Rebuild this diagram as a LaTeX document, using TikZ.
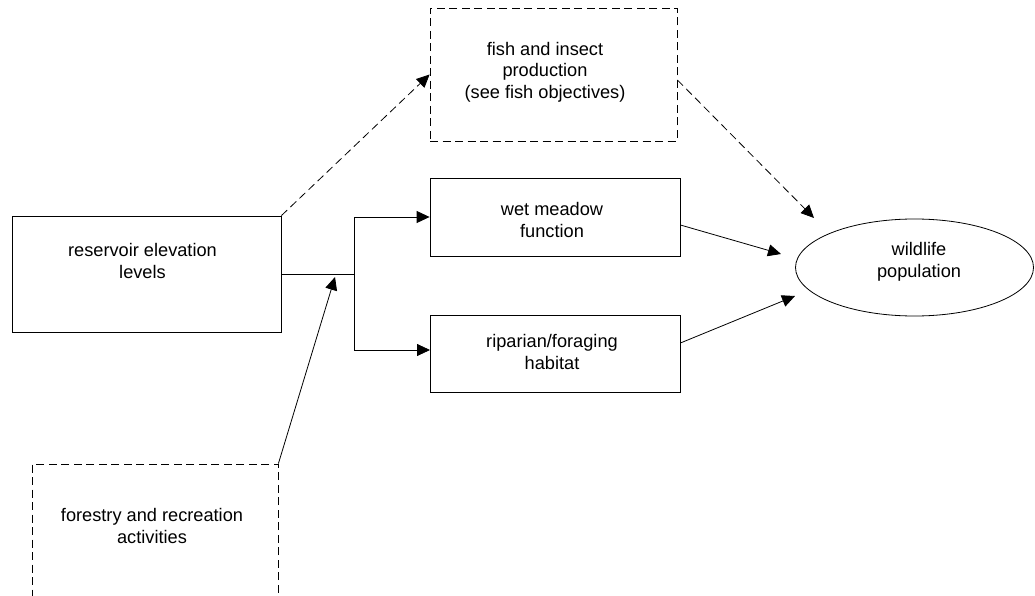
\documentclass[tikz,border=0pt]{standalone}
\usepackage{fontspec}
\setmainfont{Liberation Sans}
\usetikzlibrary{arrows.meta,shapes.geometric}
\begin{document}
\begin{tikzpicture}[x=1pt,y=-1pt,
  box/.style={draw=black, line width=0.8pt, rectangle, inner sep=0pt},
  dbox/.style={box, dash pattern=on 8pt off 4.5pt},
  txt/.style={align=center, font=\fontsize{18.2}{21.5}\selectfont, inner sep=0pt},
  arr/.style={line width=0.8pt, -{Triangle[length=13pt,width=12pt]}},
  darr/.style={arr, dash pattern=on 8pt off 4.5pt},
  conn/.style={line width=0.8pt}]
\useasboundingbox (0,0) rectangle (1035,596);
\clip (0,0) rectangle (1035,596);
% boxes
\node[box, minimum width=269pt, minimum height=116pt] (res) at (146.5,274) {};
\node[txt] (tres) at (142.5,261) {reservoir elevation\\levels};
\node[dbox, minimum width=247pt, minimum height=133pt] (fish) at (553.5,74.5) {};
\node[txt] (tfish) at (545,72) {fish and insect\\production\\(see fish objectives)};
\node[box, minimum width=250pt, minimum height=78pt] (wet) at (555,217) {};
\node[txt] (twet) at (552,220) {wet meadow\\function};
\node[box, minimum width=250pt, minimum height=77pt] (rip) at (555,353.5) {};
\node[txt] (trip) at (552,352) {riparian/foraging\\habitat};
\node[dbox, minimum width=246pt, minimum height=170pt] (for) at (155,549) {};
\node[txt] (tfor) at (152,526) {forestry and recreation\\activities};
\node[draw=black, line width=0.8pt, ellipse, inner sep=0pt, minimum width=238pt, minimum height=97pt] (wild) at (914.5,267.5) {};
\node[txt] (twild) at (919,262) {wildlife\\population};
% coordinates
\coordinate (j) at (354,274);
\coordinate (jt) at (430,350);
\coordinate (w1) at (814,218);
\coordinate (w2) at (781,254);
\coordinate (w3) at (795,296);
\coordinate (f1) at (335,277);
% connectors
\draw[conn] (res.east) -- (j);
\draw[arr] (j) |- (wet.west);
\draw[arr] (j) |- (jt);
\draw[darr] (res.north east) -- (fish.west);
\draw[darr] ([yshift=-5.5pt]fish.east) -- (w1);
\draw[arr] ([yshift=-8pt]wet.east) -- (w2);
\draw[arr] ([yshift=10.5pt]rip.east) -- (w3);
\draw[arr] (for.north east) -- (f1);
\end{tikzpicture}
\end{document}
